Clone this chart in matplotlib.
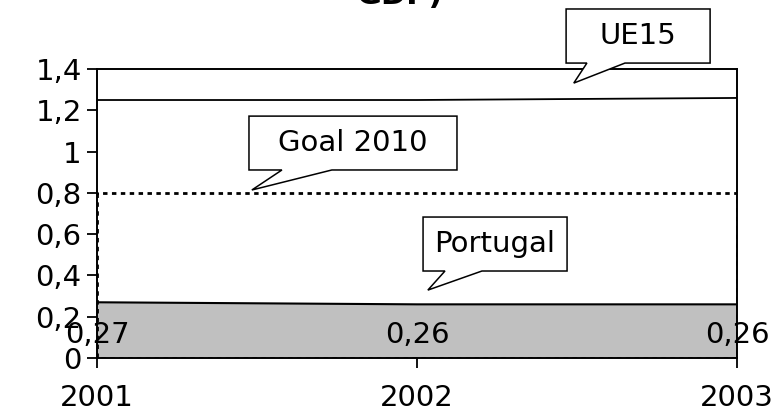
import matplotlib.pyplot as plt
from matplotlib.patches import Polygon

years = [2001, 2002, 2003]
portugal = [0.27, 0.26, 0.26]
ue15 = [1.25, 1.25, 1.26]
goal = [0.8, 0.8, 0.8]
portugal_labels = ["0,27", "0,26", "0,26"]
yticks = [0, 0.2, 0.4, 0.6, 0.8, 1.0, 1.2, 1.4]
ytick_labels = ["0", "0,2", "0,4", "0,6", "0,8", "1", "1,2", "1,4"]

FS = 21

fig = plt.figure(figsize=(7.77, 4.2), dpi=100)
ax = fig.add_axes([0.1248, 0.1476, 0.8237, 0.688])

ax.fill_between(years, 0, portugal, facecolor="#c0c0c0", edgecolor="none", zorder=1)
ax.plot(years, portugal, color="black", lw=1.5, zorder=3)
ax.fill_between(years, 0, goal, facecolor="none", edgecolor="black",
                linestyle=(0, (1.6, 1.6)), lw=2, zorder=2)
ax.plot(years, ue15, color="black", lw=1.3, zorder=3)

for x, y, s in zip(years, portugal, portugal_labels):
    ax.text(x, 0.11, s, ha="center", va="center", fontsize=FS, zorder=5)

ax.set_xlim(2001, 2003)
ax.set_ylim(0, 1.4)
ax.set_xticks(years)
ax.set_xticklabels([str(y) for y in years], fontsize=FS)
ax.set_yticks(yticks)
ax.set_yticklabels(ytick_labels, fontsize=FS)
ax.tick_params(axis="both", direction="out", length=7, width=1.3, color="black")
ax.tick_params(axis="x", pad=12)
ax.tick_params(axis="y", pad=4)
for sp in ax.spines.values():
    sp.set_color("black")
    sp.set_linewidth(1.4)


def callout(text, x0, x1, y0, y1, b0, b1, tip):
    pts = [(x0, y1), (x1, y1), (x1, y0), (b1, y0), tip, (b0, y0), (x0, y0)]
    poly = Polygon(pts, closed=True, facecolor="white", edgecolor="black",
                   lw=1.1, clip_on=False, zorder=6)
    ax.add_patch(poly)
    ax.text((x0 + x1) / 2, (y0 + y1) / 2, text, ha="center", va="center",
            fontsize=FS, zorder=7, clip_on=False)


callout("UE15", 2002.466, 2002.916, 1.429, 1.691, 2002.531, 2002.65, (2002.49, 1.332))
callout("Goal 2010", 2001.475, 2002.125, 0.911, 1.172, 2001.578, 2001.734, (2001.484, 0.814))
callout("Portugal", 2002.019, 2002.469, 0.4215, 0.683, 2002.0875, 2002.203, (2002.034, 0.329))

fig.text(0.515, 1 - 4 / 420, "GDP)", ha="center", va="baseline",
         fontsize=22, fontweight="bold")

fig.savefig("out.png", dpi=100)
